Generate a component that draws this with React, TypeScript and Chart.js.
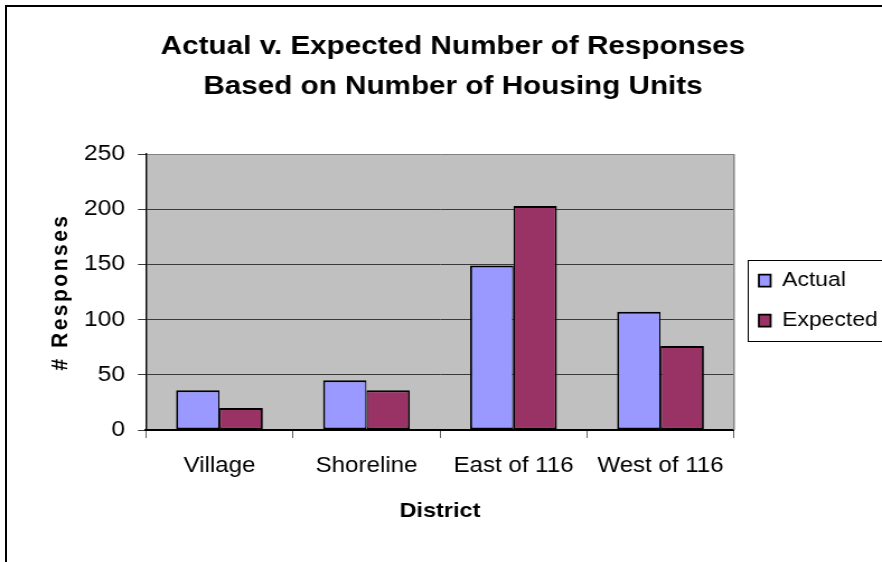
import React, { useEffect, useRef } from 'react';
import { Chart, registerables } from 'chart.js';

Chart.register(...registerables);

// ---- data ----
const categories = ['Village', 'Shoreline', 'East of 116', 'West of 116'];
const actualValues = [36, 45, 149, 107];
const expectedValues = [20, 36, 203, 76];
const yTickValues = [0, 50, 100, 150, 200, 250];
const seriesNames = ['Actual', 'Expected'];
const titleLines = ['Actual v. Expected Number of Responses', 'Based on Number of Housing Units'];
const xAxisTitle = 'District';
const yAxisTitle = '# Responses';

// ---- layout ----
const W = 882;
const H = 562;
const IW = 788; // internal canvas width; the canvas is stretched horizontally to W (wide Excel-like text)
const FONT = "'Liberation Sans', Arial, Helvetica, sans-serif";

const plotDecor = {
  id: 'plotDecor',
  beforeDraw(chart: any) {
    const { ctx, chartArea: a } = chart;
    ctx.save();
    ctx.fillStyle = '#C0C0C0';
    ctx.fillRect(a.left, a.top, a.right - a.left, a.bottom - a.top);
    ctx.restore();
    // vertical axis title: the source text is wide along its reading direction
    const s = chart.scales.y;
    if (s && !s.__lsPatched) {
      const orig = s.drawTitle;
      s.drawTitle = function (...args: any[]) {
        const c = this.ctx;
        const prev = c.letterSpacing;
        c.letterSpacing = '2.5px';
        orig.apply(this, args);
        c.letterSpacing = prev || '0px';
      };
      s.__lsPatched = true;
    }
  },
  beforeDatasetsDraw(chart: any) {
    const { ctx, chartArea: a } = chart;
    ctx.save();
    ctx.strokeStyle = '#808080';
    ctx.lineWidth = 1.4;
    ctx.beginPath();
    ctx.moveTo(a.right, a.top);
    ctx.lineTo(a.right, a.bottom);
    ctx.stroke();
    ctx.restore();
  },
  afterDraw(chart: any) {
    const lg = chart.legend;
    if (!lg || !lg.legendHitBoxes || !lg.legendHitBoxes.length) return;
    const hb = lg.legendHitBoxes;
    const last = hb[hb.length - 1];
    const top = hb[0].top - 10;
    const bottom = last.top + last.height + 10;
    const left = lg.left + 10;
    const { ctx } = chart;
    ctx.save();
    ctx.strokeStyle = '#000';
    ctx.lineWidth = 1;
    ctx.strokeRect(left, Math.round(top) + 0.5, chart.width + 10 - left, Math.round(bottom - top));
    ctx.restore();
  },
};

export default function App() {
  const ref = useRef<HTMLCanvasElement | null>(null);

  useEffect(() => {
    if (!ref.current) return;
    const chart = new Chart(ref.current, {
      type: 'bar',
      data: {
        labels: categories,
        datasets: [
          {
            label: seriesNames[0],
            data: actualValues,
            backgroundColor: '#9999FF',
            borderColor: '#000000',
            borderWidth: { left: 1.8, right: 1.2, top: 2, bottom: 2 },
            borderSkipped: false,
            barPercentage: 1,
            categoryPercentage: 0.59,
          },
          {
            label: seriesNames[1],
            data: expectedValues,
            backgroundColor: '#993366',
            borderColor: '#000000',
            borderWidth: { left: 1.2, right: 1.8, top: 2, bottom: 2 },
            borderSkipped: false,
            barPercentage: 1,
            categoryPercentage: 0.59,
          },
        ],
      },
      options: {
        responsive: false,
        maintainAspectRatio: false,
        devicePixelRatio: 1,
        animation: false,
        events: [],
        layout: { padding: { left: 21.4, right: 0, top: 0, bottom: 0 } },
        scales: {
          x: {
            grid: {
              offset: true,
              drawOnChartArea: false,
              drawTicks: true,
              tickLength: 8,
              color: '#606060',
              tickColor: '#606060',
            },
            border: { display: true, color: '#000000', width: 2 },
            ticks: {
              font: { family: FONT, size: 21.5 },
              color: '#000000',
              padding: 15.1,
              maxRotation: 0,
              autoSkip: false,
            },
            title: {
              display: true,
              text: xAxisTitle,
              font: { family: FONT, size: 21, weight: 'bold' },
              color: '#000000',
              padding: { top: 0, bottom: 38.4 },
            },
            afterFit: (s: any) => {
              s.height = 132;
            },
          },
          y: {
            min: 0,
            max: 250,
            afterBuildTicks: (s: any) => {
              s.ticks = yTickValues.map((v) => ({ value: v }));
            },
            grid: {
              color: (c: any) => (c.tick && c.tick.value === 250 ? '#808080' : '#3a3a3a'),
              tickColor: '#3a3a3a',
              tickLength: 7.15,
              lineWidth: 1,
            },
            border: { display: true, color: '#000000', width: 1.4 },
            ticks: {
              font: { family: FONT, size: 22 },
              color: '#000000',
              padding: 11.5,
            },
            title: {
              display: true,
              text: yAxisTitle,
              font: { family: FONT, size: 21, weight: 'bold' },
              color: '#000000',
              padding: { top: 20.5, bottom: 0 },
            },
            afterFit: (s: any) => {
              s.width = 109;
            },
          },
          gap: {
            type: 'linear',
            position: 'right',
            display: true,
            grid: { display: false, drawTicks: false },
            border: { display: false },
            ticks: { display: false },
            title: { display: false },
            afterFit: (s: any) => {
              s.width = 2.7;
            },
          },
        },
        plugins: {
          title: {
            display: true,
            text: titleLines,
            font: { family: FONT, size: 26.5, weight: 'bold', lineHeight: 40 / 26.5 },
            color: '#000000',
            padding: { top: 27, bottom: 47 },
          },
          legend: {
            position: 'right',
            fullSize: false,
            align: 'center',
            maxWidth: 129.5,
            labels: {
              boxWidth: 10.5,
              boxHeight: 12,
              padding: 19.5,
              font: { family: FONT, size: 20.5 },
              color: '#000000',
            },
            title: {
              display: true,
              text: '',
              padding: 0,
              font: { family: FONT, size: 14, lineHeight: 17 / 14 },
            },
          },
          tooltip: { enabled: false },
        },
      },
      plugins: [plotDecor],
    } as any);
    return () => chart.destroy();
  }, []);

  return (
    <div
      style={{
        position: 'absolute',
        left: 0,
        top: 0,
        width: W,
        height: H,
        overflow: 'hidden',
        background: '#ffffff',
      }}
    >
      <div
        style={{
          position: 'absolute',
          left: 5,
          top: 5,
          width: W + 20,
          height: H + 20,
          border: '2px solid #000',
          boxSizing: 'border-box',
        }}
      />
      <canvas
        ref={ref}
        width={IW}
        height={H}
        style={{ position: 'absolute', left: 0, top: 0, width: W + 'px', height: H + 'px', display: 'block' }}
      />
    </div>
  );
}
